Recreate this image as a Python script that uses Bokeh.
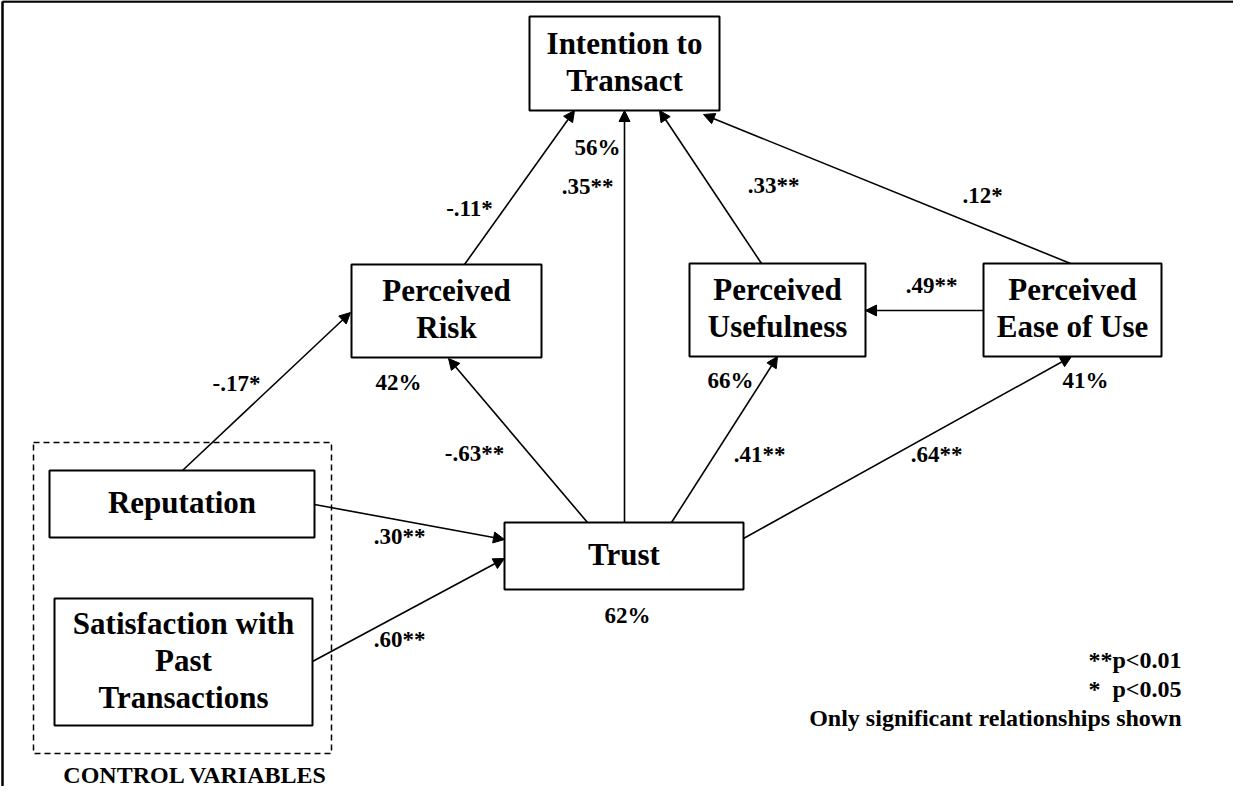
from bokeh.plotting import figure
from bokeh.models import Range1d, Arrow, NormalHead, ColumnDataSource
from bokeh.core.properties import value
from bokeh.embed import file_html
from bokeh.resources import INLINE

# ---------------- data ----------------
constructs = ["Intention to\nTransact", "Perceived\nRisk", "Perceived\nUsefulness",
              "Perceived\nEase of Use", "Trust", "Reputation",
              "Satisfaction with\nPast\nTransactions"]
paths = [("Reputation", "Perceived\nRisk"),
         ("Perceived\nRisk", "Intention to\nTransact"),
         ("Trust", "Perceived\nRisk"),
         ("Trust", "Intention to\nTransact"),
         ("Perceived\nUsefulness", "Intention to\nTransact"),
         ("Perceived\nEase of Use", "Intention to\nTransact"),
         ("Perceived\nEase of Use", "Perceived\nUsefulness"),
         ("Trust", "Perceived\nUsefulness"),
         ("Trust", "Perceived\nEase of Use"),
         ("Reputation", "Trust"),
         ("Satisfaction with\nPast\nTransactions", "Trust")]
coefficients = ["-.17*", "-.11*", "-.63**", ".35**", ".33**", ".12*",
                ".49**", ".41**", ".64**", ".30**", ".60**"]
r_squared_labels = ["56%", "42%", "66%", "41%", "62%"]
notes = ["**p<0.01", "*\u00a0\u00a0p<0.05", "Only significant relationships shown"]
group_label = "CONTROL VARIABLES"

# ---------------- layout (pixel coordinates of the diagram) ----------------
box_geom = {  # left, right, top, bottom
    "Intention to\nTransact": (537, 727, 24, 118),
    "Perceived\nRisk": (359, 549, 272, 365),
    "Perceived\nUsefulness": (697, 873, 271, 364),
    "Perceived\nEase of Use": (991, 1169, 271, 364),
    "Trust": (512, 751, 530, 597),
    "Reputation": (57, 322, 478, 545),
    "Satisfaction with\nPast\nTransactions": (62, 320, 606, 733),
}
path_geom = [  # x_start, y_start, x_end, y_end
    (190, 478, 358, 320),
    (472, 272, 582, 118),
    (595, 530, 456, 366),
    (632, 530, 632, 118),
    (769, 271, 667, 118),
    (1078, 271, 711, 122),
    (991, 318, 873, 318),
    (679, 530, 785, 364),
    (751, 546, 1079, 364),
    (322, 512, 512, 547),
    (320, 669, 512, 566),
]
coef_pos = [(244, 391), (477, 216), (482, 461), (595, 194), (781, 193), (990, 203),
            (939, 293), (767, 462), (944, 462), (407, 544), (407, 647)]
r2_pos = [(605, 155), (406, 390), (738, 388), (1093, 388), (635, 623)]
notes_pos = [(1189, 667), (1189, 696), (1189, 725)]
dashed_box = (41, 339, 450, 761)
group_pos = (203, 782)

FONT = value("Liberation Serif")
W, H = 1233, 786

p = figure(width=W, height=H, output_backend="svg", toolbar_location=None,
           x_range=Range1d(8, 8 + W), y_range=Range1d(8 + H, 8),
           min_border=0)
p.axis.visible = False
p.grid.visible = False
p.outline_line_color = None
p.background_fill_color = "white"

# outer frame (top and left edges)
p.line(x=[10, 8 + W], y=[9, 9], line_color="black", line_width=2.5)
p.line(x=[10, 10], y=[9, 8 + H], line_color="black", line_width=2.5)

# dashed control-variable group
l, r, t, b = dashed_box
p.quad(left=[l], right=[r], top=[t], bottom=[b], fill_color=None,
       line_color="black", line_width=1.5, line_dash="6 4")
p.text(x=[group_pos[0]], y=[group_pos[1]], text=[group_label], text_font=FONT,
       text_font_style="bold", text_font_size="24px", text_align="center",
       text_baseline="middle", text_color="black")

# construct boxes
src = ColumnDataSource(dict(
    left=[box_geom[c][0] for c in constructs],
    right=[box_geom[c][1] for c in constructs],
    top=[box_geom[c][2] for c in constructs],
    bottom=[box_geom[c][3] for c in constructs]))
p.quad(left="left", right="right", top="top", bottom="bottom", source=src,
       fill_color="white", line_color="black", line_width=2)

LINE_H = 37
tx, ty, tt = [], [], []
for c in constructs:
    lft, rgt, top, bot = box_geom[c]
    cx, cy = (lft + rgt) / 2, (top + bot) / 2 - 2
    lines = c.split("\n")
    n = len(lines)
    for i, ln in enumerate(lines):
        tx.append(cx)
        ty.append(cy + (i - (n - 1) / 2) * LINE_H)
        tt.append(ln)
p.text(x=tx, y=ty, text=tt, text_font=FONT, text_font_style="bold",
       text_font_size="31px", text_align="center", text_baseline="middle",
       text_color="black")

# paths
for (x0, y0, x1, y1) in path_geom:
    p.add_layout(Arrow(end=NormalHead(size=11, fill_color="black", line_color="black",
                                      line_width=1),
                       x_start=x0, y_start=y0, x_end=x1, y_end=y1,
                       line_color="black", line_width=1.6))

# coefficient labels
p.text(x=[q[0] for q in coef_pos], y=[q[1] for q in coef_pos], text=coefficients,
       text_font=FONT, text_font_style="bold", text_font_size="23px",
       text_align="center", text_baseline="middle", text_color="black")

# R-squared labels
p.text(x=[q[0] for q in r2_pos], y=[q[1] for q in r2_pos], text=r_squared_labels,
       text_font=FONT, text_font_style="bold", text_font_size="23px",
       text_align="center", text_baseline="middle", text_color="black")

# significance notes
p.text(x=[q[0] for q in notes_pos], y=[q[1] for q in notes_pos], text=notes,
       text_font=FONT, text_font_style="bold", text_font_size="24px",
       text_align="right", text_baseline="middle", text_color="black")

open("out.html", "w").write(file_html(p, INLINE))
